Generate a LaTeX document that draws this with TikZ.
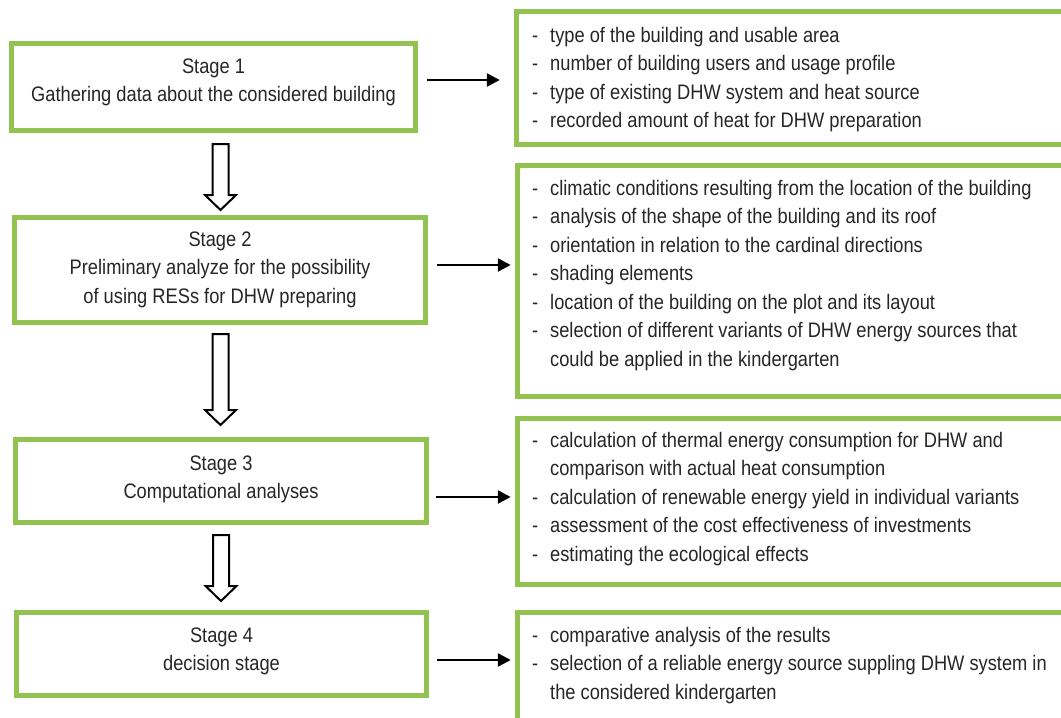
\documentclass[tikz,border=0pt]{standalone}
\usepackage{fontspec}
\setmainfont{Liberation Sans}[FakeStretch=0.87]
\usetikzlibrary{arrows.meta,calc}
\definecolor{grn}{RGB}{146,194,80}
\definecolor{txt}{RGB}{38,38,38}
\newcommand\itm{\makebox[18pt][l]{-}}
\newcommand\cnt{\hspace*{18pt}}
\begin{document}
\begin{tikzpicture}[x=1pt,y=-1pt,
 gbox/.style={draw=grn, line width=4.5pt, inner sep=0pt},
 lbl/.style={text=txt, font=\fontsize{21}{28.5}\selectfont, align=center, inner sep=0pt},
 lst/.style={text=txt, font=\fontsize{21}{28.5}\selectfont, align=left, inner sep=0pt, anchor=west},
 harr/.style={line width=2.6pt, -{Triangle[length=13pt,width=13pt]}},
 hollow/.style={draw=black, line width=2pt, fill=white, line join=miter},
 pics/blockdown/.style={code={\draw[hollow] (-8,0) -- (8,0) -- (8,#1) -- (15.5,#1) -- (0,{#1+15}) -- (-15.5,#1) -- (-8,#1) -- cycle;}}]
\useasboundingbox (0,0) rectangle (1061,718);
\clip (0,0) rectangle (1061,718);
\fill[white] (0,0) rectangle (1061,718);

% left stage boxes
\node[gbox, minimum width=404pt, minimum height=87pt] (s1) at (213.5,87) {};
\node[gbox, minimum width=411pt, minimum height=105pt] (s2) at (220,270) {};
\node[gbox, minimum width=411pt, minimum height=83pt] (s3) at (221,481) {};
\node[gbox, minimum width=410pt, minimum height=83pt] (s4) at (221.5,654) {};

% right detail boxes
\node[gbox, minimum width=560pt, minimum height=133pt] (r1) at (796.5,78) {};
\node[gbox, minimum width=560pt, minimum height=231pt] (r2) at (797.5,281) {};
\node[gbox, minimum width=560pt, minimum height=166pt] (r3) at (797.5,501.5) {};
\node[gbox, minimum width=560pt, minimum height=130pt] (r4) at (797.5,677.5) {};

% stage texts
\node[lbl] (s1t) at (213.5,82.5) {Stage 1\\Gathering data about the considered building};
\node[lbl] (s2t) at (220,269.5) {Stage 2\\Preliminary analyze for the possibility\\of using RESs for DHW preparing};
\node[lbl] (s3t) at (221,479.5) {Stage 3\\Computational analyses};
\node[lbl] (s4t) at (221.5,651.5) {Stage 4\\decision stage};

% list texts
\node[lst] (r1t) at (532,79.5) {\itm type of the building and usable area\\
\itm number of building users and usage profile\\
\itm type of existing DHW system and heat source\\
\itm recorded amount of heat for DHW preparation};
\node[lst] (r2t) at (532,275.5) {\itm climatic conditions resulting from the location of the building\\
\itm analysis of the shape of the building and its roof\\
\itm orientation in relation to the cardinal directions\\
\itm shading elements\\
\itm location of the building on the plot and its layout\\
\itm selection of different variants of DHW energy sources that\\
\cnt could be applied in the kindergarten};
\node[lst] (r3t) at (532,499) {\itm calculation of thermal energy consumption for DHW and\\
\cnt comparison with actual heat consumption\\
\itm calculation of renewable energy yield in individual variants\\
\itm assessment of the cost effectiveness of investments\\
\itm estimating the ecological effects};
\node[lst] (r4t) at (532,665.5) {\itm comparative analysis of the results\\
\itm selection of a reliable energy source suppling DHW system in\\
\cnt the considered kindergarten};

% horizontal arrows
\path ([shift={(9.5,-7)}]s1.east) coordinate (h1s);
\path (h1s -| r1.west) coordinate (h1e);
\draw[harr] (h1s) -- ([xshift=-14.5pt]h1e);
\path ([shift={(9.5,-5)}]s2.east) coordinate (h2s);
\path (h2s -| r2.west) coordinate (h2e);
\draw[harr] (h2s) -- ([xshift=-4.5pt]h2e);
\path ([shift={(7.5,16)}]s3.east) coordinate (h3s);
\path (h3s -| r3.west) coordinate (h3e);
\draw[harr] (h3s) -- ([xshift=-4.5pt]h3e);
\path ([shift={(8.5,6)}]s4.east) coordinate (h4s);
\path (h4s -| r4.west) coordinate (h4e);
\draw[harr] (h4s) -- ([xshift=-4.5pt]h4e);

% hollow block arrows between stages
\pic (d1) at (220.5,144) {blockdown=51};
\pic (d2) at (220.5,334) {blockdown=76};
\pic (d3) at (221,535) {blockdown=51};
\end{tikzpicture}
\end{document}
